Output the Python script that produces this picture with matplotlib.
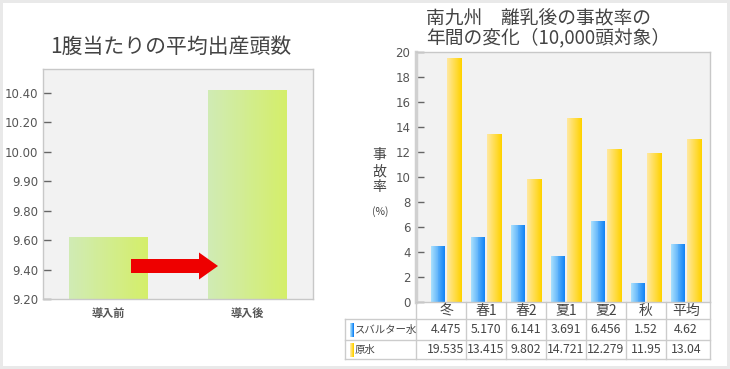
import numpy as np
import matplotlib
matplotlib.use("Agg")
import matplotlib.pyplot as plt
from matplotlib.colors import to_rgb
from matplotlib.patches import Rectangle, Polygon
from matplotlib.lines import Line2D
import matplotlib.transforms as mtransforms

plt.rcParams['font.family'] = ['Noto Sans CJK JP', 'DejaVu Sans']

# ---------------- data ----------------
left_title = "1腹当たりの平均出産頭数"
left_cats = ["導入前", "導入後"]
left_vals = [9.62, 10.42]
left_ticks = [9.20, 9.40, 9.60, 9.80, 9.90, 10.00, 10.20, 10.40]
left_ticklabels = ["9.20", "9.40", "9.60", "9.80", "9.90", "10.00", "10.20", "10.40"]

right_title = "南九州　離乳後の事故率の\n年間の変化（10,000頭対象）"
seasons = ["冬", "春1", "春2", "夏1", "夏2", "秋", "平均"]
series_names = ["スバルター水", "原水"]
sparta = [4.475, 5.170, 6.141, 3.691, 6.456, 1.52, 4.62]
gensui = [19.535, 13.415, 9.802, 14.721, 12.279, 11.95, 13.04]
sparta_txt = ["4.475", "5.170", "6.141", "3.691", "6.456", "1.52", "4.62"]
gensui_txt = ["19.535", "13.415", "9.802", "14.721", "12.279", "11.95", "13.04"]
right_yticks = list(range(0, 21, 2))

# ---------------- style ----------------
W, H = 730, 369
GRID = "#cccccc"
TXT = "#555555"
TITLE = "#444444"
PANEL = "#f2f2f2"
green0, green1 = "#d0ebb4", "#d4ee6a"
blue0, blue1 = "#a6defd", "#1585f5"
yel0, yel1 = "#ffe79c", "#ffd200"


def gradient_bar(ax, x, h, w, c0, c1, bottom=0.0, n=30):
    c0, c1 = np.array(to_rgb(c0)), np.array(to_rgb(c1))
    edges = np.linspace(x - w / 2, x + w / 2, n + 1)
    t = np.linspace(0, 1, n)
    cols = [tuple(c0 * (1 - s) + c1 * s) for s in t]
    widths = np.diff(edges) * 1.15
    widths[-1] = edges[-1] - edges[-2]
    ax.bar(edges[:-1], [h] * n, width=widths, bottom=bottom, align='edge',
           color=cols, linewidth=0, zorder=2)


def px_axes(l, t, r, b):
    return [l / W, 1 - b / H, (r - l) / W, (b - t) / H]


fig = plt.figure(figsize=(W / 100, H / 100), dpi=100)
fig.patch.set_facecolor("#e9e9e9")
fig.add_artist(Rectangle((3 / W, 1 - 366 / H), 724 / W, 363 / H,
                         transform=fig.transFigure, facecolor="white",
                         edgecolor="none", zorder=0))

# ---------------- left chart ----------------
tv = np.array(left_ticks)
ti = np.arange(len(tv), dtype=float)


def fwd(v):
    v = np.asarray(v, dtype=float)
    out = np.interp(v, tv, ti)
    s0 = (ti[1] - ti[0]) / (tv[1] - tv[0])
    s1 = (ti[-1] - ti[-2]) / (tv[-1] - tv[-2])
    out = np.where(v < tv[0], ti[0] + (v - tv[0]) * s0, out)
    out = np.where(v > tv[-1], ti[-1] + (v - tv[-1]) * s1, out)
    return out


def inv(p):
    p = np.asarray(p, dtype=float)
    out = np.interp(p, ti, tv)
    s0 = (tv[1] - tv[0]) / (ti[1] - ti[0])
    s1 = (tv[-1] - tv[-2]) / (ti[-1] - ti[-2])
    out = np.where(p < ti[0], tv[0] + (p - ti[0]) * s0, out)
    out = np.where(p > ti[-1], tv[-1] + (p - ti[-1]) * s1, out)
    return out


axL = fig.add_axes(px_axes(42.5, 68.5, 313, 299))
axL.set_facecolor(PANEL)
axL.set_yscale('function', functions=(fwd, inv))
axL.set_ylim(left_ticks[0], float(inv(7.83)))
axL.set_xlim(-0.473, 1.471)
for i, v in enumerate(left_vals):
    gradient_bar(axL, i, v - left_ticks[0], 0.568, green0, green1,
                 bottom=left_ticks[0], n=40)
axL.set_yticks(left_ticks)
axL.set_yticklabels(left_ticklabels)
axL.yaxis.set_minor_locator(matplotlib.ticker.NullLocator())
axL.set_xticks(range(len(left_cats)))
axL.set_xticklabels(left_cats, fontsize=8, color=TXT, fontweight='bold')
axL.tick_params(axis='x', length=0, pad=6)
axL.tick_params(axis='y', direction='in', length=5.5, width=1, color="#666666",
                labelsize=8.5, labelcolor=TXT, pad=3)
for lab in axL.get_yticklabels():
    lab.set_family(['DejaVu Sans'])
for sp in axL.spines.values():
    sp.set_color("#c8c8c8")
    sp.set_linewidth(1)
fig.text(50 / W, 1 - 47 / H, left_title, fontsize=15, color=TITLE,
         ha='left', va='center')

# red arrow (annotation)
arrow_px = [(131, 259), (199, 259), (199, 252.5), (218, 266), (199, 279.5),
            (199, 273), (131, 273)]
fig.add_artist(Polygon([(x / W, 1 - y / H) for x, y in arrow_px], closed=True,
                       transform=fig.transFigure, facecolor="#ee0000",
                       edgecolor="none", zorder=5))

# ---------------- right chart ----------------
axR = fig.add_axes(px_axes(416, 52, 710, 302))
axR.set_facecolor(PANEL)
xs = np.arange(len(seasons))
axR.set_xlim(-0.75, 6.6)
axR.set_ylim(0, 20)
bw = 0.37
for i in range(len(seasons)):
    gradient_bar(axR, xs[i] - 0.2, sparta[i], bw, blue0, blue1, n=15)
    gradient_bar(axR, xs[i] + 0.22, gensui[i], bw, yel0, yel1, n=15)
axR.set_yticks(right_yticks)
axR.set_yticklabels([str(t) for t in right_yticks])
for lab in axR.get_yticklabels():
    lab.set_family(['DejaVu Sans'])
axR.tick_params(axis='y', direction='in', length=6, width=1, color="#666666",
                labelsize=8.5, labelcolor=TXT, pad=4)
axR.set_xticks([])
for name, sp in axR.spines.items():
    sp.set_color("#c8c8c8")
    sp.set_linewidth(1)
axR.spines['left'].set_linewidth(2.5)
axR.spines['left'].set_color("#d0d0d0")

fig.text(426 / W, 1 - 28.5 / H, right_title, fontsize=13.5, color=TITLE,
         ha='left', va='center', linespacing=0.9)
fig.text(379 / W, 1 - 171 / H, "事\n故\n率", fontsize=10, color="#444444",
         ha='center', va='center', linespacing=1.2)
fig.text(380 / W, 1 - 212 / H, "(%)", fontsize=7.5, color="#444444",
         ha='center', va='center')

# table below the right chart
trans = mtransforms.blended_transform_factory(axR.transData, axR.transAxes)
axh = 250.0
r1 = -17 / axh
r2 = -38 / axh
r3 = -57 / axh
legx = (345 - 416) / 294.0
xl, xr = axR.get_xlim()


def vline(x, y0, y1, tr):
    axR.add_line(Line2D([x, x], [y0, y1], transform=tr, color=GRID, lw=1,
                        clip_on=False))


def hline(x0, x1, y, tr):
    axR.add_line(Line2D([x0, x1], [y, y], transform=tr, color=GRID, lw=1,
                        clip_on=False))


for xb in [xl] + [i + 0.5 for i in range(len(seasons) - 1)] + [xr]:
    vline(xb, 0, r3, trans)
vline(legx, r1, r3, axR.transAxes)
for yy in (r1, r2, r3):
    hline(legx, 1, yy, axR.transAxes)

for i, s in enumerate(seasons):
    axR.text(i, (0 + r1) / 2, s, transform=trans, ha='center', va='center',
             fontsize=10, color="#444444", clip_on=False)
    axR.text(i, (r1 + r2) / 2, sparta_txt[i], transform=trans, ha='center',
             va='center', fontsize=8.8, color="#444444", clip_on=False)
    axR.text(i, (r2 + r3) / 2, gensui_txt[i], transform=trans, ha='center',
             va='center', fontsize=8.8, color="#444444", clip_on=False)

# legend cells
for k, (nm, c0, c1, yc) in enumerate([(series_names[0], blue0, blue1, (r1 + r2) / 2),
                                      (series_names[1], yel0, yel1, (r2 + r3) / 2)]):
    c0a, c1a = np.array(to_rgb(c0)), np.array(to_rgb(c1))
    sw_h = 14 / axh
    for j in range(4):
        t = j / 3
        axR.add_patch(Rectangle(((350 + j - 416) / 294.0, yc - sw_h / 2),
                                1.2 / 294.0, sw_h, transform=axR.transAxes,
                                facecolor=tuple(c0a * (1 - t) + c1a * t),
                                edgecolor='none', clip_on=False))
    axR.text((355 - 416) / 294.0, yc, nm, transform=axR.transAxes, ha='left',
             va='center', fontsize=7.5, color="#444444", clip_on=False)

fig.savefig("out.png", dpi=100, facecolor=fig.get_facecolor())
